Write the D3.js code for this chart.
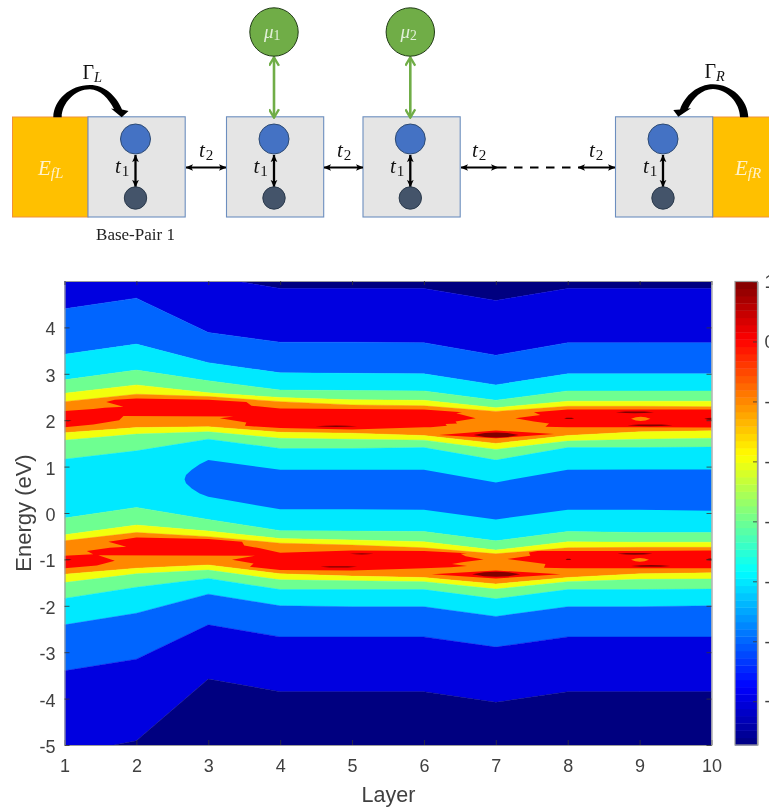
<!DOCTYPE html>
<html><head><meta charset="utf-8">
<style>html,body{margin:0;padding:0;background:#fff;overflow:hidden}svg{display:block;filter:blur(0.55px)}</style>
<script src="https://cdnjs.cloudflare.com/ajax/libs/d3/7.8.5/d3.min.js"></script>
</head><body><svg id="c" width="769" height="808"></svg>
<script>
// ---- data: contour boundaries (energy, eV) at layers 1..10, top to bottom
const layers=[1,2,3,4,5,6,7,8,9,10];
const xTicks=layers, yTicks=[-5,-4,-3,-2,-1,0,1,2,3,4], cbTicks=[1,0,-1,-2,-3,-4,-5,-6];
const xLabel="Layer", yLabel="Energy (eV)";
const edgeTop=[5.6,5.6,5.6,5.6,5.6,5.6,5.6,5.6,5.6,5.6];
const e1=[5.5,5.4,5.10,4.84,4.84,4.84,4.58,4.84,4.84,4.84];
const e2=[4.40,4.63,3.89,3.68,3.68,3.67,3.40,3.67,3.67,3.67];
const e3=[3.42,3.64,3.24,3.02,3.01,3.00,2.76,3.00,3.00,3.00];
const e4=[2.87,3.08,2.85,2.65,2.64,2.63,2.43,2.63,2.63,2.63];
const e5=[2.58,2.76,2.59,2.49,2.44,2.43,2.27,2.41,2.41,2.41];
const e6=[2.40,2.56,2.51,2.40,2.33,2.31,2.19,2.30,2.30,2.29];
const e7=[1.73,1.84,1.86,1.74,1.72,1.67,1.50,1.67,1.75,1.77];
const e8=[1.57,1.70,1.75,1.61,1.59,1.57,1.37,1.55,1.59,1.61];
const e9=[1.16,1.34,1.59,1.39,1.39,1.41,1.14,1.41,1.41,1.42];
const e10=[-0.11,0.12,-0.14,-0.38,-0.39,-0.40,-0.60,-0.40,-0.42,-0.42];
const e11=[-0.47,-0.26,-0.39,-0.55,-0.58,-0.62,-0.80,-0.62,-0.63,-0.63];
const e12=[-0.60,-0.42,-0.51,-0.65,-0.69,-0.75,-0.88,-0.75,-0.74,-0.74];
const e13=[-1.32,-1.19,-1.12,-1.31,-1.36,-1.39,-1.53,-1.39,-1.31,-1.29];
const e14=[-1.50,-1.31,-1.23,-1.44,-1.46,-1.48,-1.64,-1.48,-1.43,-1.42];
const e15=[-1.84,-1.60,-1.41,-1.65,-1.65,-1.65,-1.85,-1.65,-1.65,-1.64];
const e16=[-2.41,-2.16,-1.75,-2.00,-2.02,-2.02,-2.23,-2.02,-2.02,-2.00];
const e17=[-3.40,-3.15,-2.41,-2.67,-2.67,-2.67,-2.89,-2.67,-2.67,-2.67];
const e18=[-5.20,-4.91,-3.58,-3.85,-3.85,-3.85,-4.08,-3.85,-3.85,-3.85];
const edgeBottom=[-5.6,-5.6,-5.6,-5.6,-5.6,-5.6,-5.6,-5.6,-5.6,-5.6];
const bandEdges=[edgeTop,e1,e2,e3,e4,e5,e6,e7,e8,e9,e10,e11,e12,e13,e14,e15,e16,e17,e18,edgeBottom];
const bandLevels=[-7,-6,-5,-4,-3,-2,-1,-2,-3,-4,-3,-2,-1,-2,-3,-4,-5,-6,-7];
// closed regions [layer, energy]
const pocket=[[2.67,0.73],[2.69,0.82],[2.77,0.93],[2.88,1.05],[3,1.14],[4,0.93],[5,0.93],[6,0.93],[7,0.66],[8,0.93],[9,0.94],[10,0.94],[10,0.05],[9,0.07],[8,0.07],[7,-0.14],[6,0.07],[5,0.08],[4,0.08],[3,0.35],[2.88,0.42],[2.77,0.53],[2.69,0.64]];
const redUpperLeft=[[1,2.20],[1.40,2.24],[1.56,2.27],[1.82,2.29],[1.58,2.39],[1.70,2.44],[2,2.47],[3,2.44],[3.53,2.39],[3.60,2.31],[4,2.25],[5,2.24],[6,2.23],[6.53,2.17],[6.45,2.15],[6.72,2.04],[6.44,1.97],[6.46,1.93],[6.30,1.92],[6.32,1.88],[6.09,1.85],[6,1.85],[5,1.80],[4,1.83],[3.51,1.88],[3.53,1.95],[3.16,2.04],[3.35,2.08],[1.82,2.09],[1.76,2.00],[1.40,1.91],[1,1.85]];
const redUpperRight=[[7.27,2.04],[7.62,2.11],[7.53,2.17],[8,2.23],[9,2.23],[10,2.23],[10,1.84],[9,1.85],[8,1.85],[7.69,1.86],[7.74,1.93],[7.53,1.97]];
const redUpperCentre=[[6.21,1.68],[7,1.78],[7.81,1.70],[7,1.61]];
const redLowerLeft=[[1,-0.92],[1.40,-0.89],[1.31,-0.82],[1.63,-0.75],[1.86,-0.73],[1.61,-0.62],[2,-0.53],[3,-0.56],[3.47,-0.62],[3.50,-0.70],[3.72,-0.76],[4,-0.855],[5,-0.81],[6,-0.82],[6.60,-0.87],[6.51,-0.88],[6.58,-0.93],[6.83,-1.00],[6.53,-1.06],[6.39,-1.10],[6.60,-1.14],[6.37,-1.17],[6,-1.19],[5,-1.24],[4,-1.23],[3.58,-1.16],[3.63,-1.09],[3.33,-1.01],[3.65,-0.92],[1.47,-0.91],[1.70,-1.03],[1.45,-1.13],[1,-1.19]];
const redLowerRight=[[7.16,-0.99],[7.48,-0.92],[7.46,-0.85],[7.58,-0.82],[8,-0.82],[9,-0.82],[10,-0.81],[10,-1.19],[9,-1.19],[8,-1.19],[7.67,-1.18],[7.69,-1.10]];
const redLowerCentre=[[6.11,-1.32],[7,-1.24],[7.90,-1.32],[7,-1.41]];
const redRegions=[redUpperLeft,redUpperRight,redUpperCentre,redLowerLeft,redLowerRight,redLowerCentre];
// thin peaks: start layer, end layer, energy, half height
const peakStart=[6.69,7.95,8.67,8.83,9.90,4.49,1,6.67,7.97,8.69,8.88,9.92,4.56,4.97,1];
const peakEnd  =[7.32,8.09,9.20,9.46,10.1,5.07,1.10,7.34,8.05,9.18,9.43,10.1,5.07,5.30,1.10];
const peakE    =[1.68,2.04,2.17,1.89,2.03,1.87,1.99,-1.32,-1.00,-0.88,-1.14,-1.00,-1.16,-0.88,-1.00];
const peakH    =[0.055,0.015,0.02,0.02,0.025,0.015,0.01,0.055,0.015,0.02,0.02,0.025,0.015,0.012,0.01];
// orange islands: start, end, energy, half height
const islandStart=[8.88,8.88], islandEnd=[9.15,9.13], islandE=[2.03,-1.01], islandH=[0.045,0.04];
const jetStops=["#000080","#0000ff","#00ffff","#ffff00","#ff0000","#800000"];
const jetPos=[0,0.125,0.375,0.625,0.875,1];

// ---- scales
const svg=d3.select("#c");
const X0=64.5,X1=711.5,Y0=745,Y1=281;
const x=d3.scaleLinear().domain([1,10]).range([X0,X1]);
const y=d3.scaleLinear().domain([-5,5]).range([Y0,Y1]);
const cbY=d3.scaleLinear().domain([-6.73,1]).range([745,281.5]);
const jetFrac=d3.scaleLinear().domain(jetPos).range(jetStops).interpolate(d3.interpolateRgb);
const valFrac=d3.scaleLinear().domain([-6.73,1]).range([0,1]).clamp(true);
const color=v=>jetFrac(valFrac(v));

// ---- contour plot
const defs=svg.append("defs");
defs.append("clipPath").attr("id","plot").append("rect").attr("x",X0).attr("y",Y1).attr("width",X1-X0).attr("height",Y0-Y1);
const plot=svg.append("g").attr("clip-path","url(#plot)");
const band=d3.area().x((d,i)=>x(layers[i])).y0(d=>y(d[1])).y1(d=>y(d[0]));
bandLevels.forEach((lv,k)=>{
  const rows=layers.map((_,i)=>[bandEdges[k][i],bandEdges[k+1][i]]);
  plot.append("path").attr("d",band(rows)).attr("fill",color(lv)).attr("stroke",color(lv)).attr("stroke-width",0.4);
});
const poly=d3.line().x(d=>x(d[0])).y(d=>y(d[1])).curve(d3.curveLinearClosed);
plot.append("path").attr("d",poly(pocket)).attr("fill",color(-5));
redRegions.forEach(r=>plot.append("path").attr("d",poly(r)).attr("fill",color(0)));
const lens=(s,e,c,h)=>{const m=(s+e)/2;return [[s,c],[s+(m-s)*.5,c+h*.8],[m,c+h],[e-(e-m)*.5,c+h*.8],[e,c],[e-(e-m)*.5,c-h*.8],[m,c-h],[s+(m-s)*.5,c-h*.8]];};
peakStart.forEach((s,i)=>plot.append("path").attr("d",poly(lens(s,peakEnd[i],peakE[i],peakH[i]))).attr("fill",color(1)));
islandStart.forEach((s,i)=>plot.append("path").attr("d",poly(lens(s,islandEnd[i],islandE[i],islandH[i]))).attr("fill",color(-1)));

// ---- axes
const font="'Liberation Sans',Arial,sans-serif", axisCol="#404040";
const plain=d=>String(d);
function styleAxis(g){g.selectAll("path.domain").attr("stroke","#9c9c9c").attr("stroke-width",1.2);
  g.selectAll(".tick line").attr("stroke","#333").attr("stroke-width",0.8);
  g.selectAll("text").attr("font-family",font).attr("font-size",18).attr("fill",axisCol);}
const axB=d3.axisBottom(x).tickValues(xTicks).tickFormat(plain).tickSize(-5).tickPadding(14.5).tickSizeOuter(0);
styleAxis(svg.append("g").attr("transform",`translate(0,${Y0})`).call(axB));
const axL=d3.axisLeft(y).tickValues(yTicks).tickFormat(plain).tickSize(-5).tickPadding(9).tickSizeOuter(0);
const gl=svg.append("g").attr("transform",`translate(${X0},0)`).call(axL);styleAxis(gl);
gl.selectAll("text").attr("dy","0.42em");
const axT=d3.axisTop(x).tickValues(xTicks).tickFormat("").tickSize(-4).tickSizeOuter(0);
styleAxis(svg.append("g").attr("transform",`translate(0,${Y1})`).call(axT));
const axR=d3.axisRight(y).tickValues(yTicks).tickFormat("").tickSize(-5).tickSizeOuter(0);
styleAxis(svg.append("g").attr("transform",`translate(${X1},0)`).call(axR));
svg.append("text").attr("x",388.5).attr("y",802).attr("text-anchor","middle").attr("font-family",font).attr("font-size",21.5).attr("fill",axisCol).text(xLabel);
svg.append("text").attr("transform","translate(31,513) rotate(-90)").attr("text-anchor","middle").attr("font-family",font).attr("font-size",22).attr("fill",axisCol).text(yLabel);

// ---- colorbar
const cbX=735,cbW=22.5;
const steps=d3.range(64);
const cbVal=d3.scaleLinear().domain([0,64]).range([-6.73,1]);
svg.append("g").selectAll("rect").data(steps).join("rect")
 .attr("x",cbX).attr("width",cbW)
 .attr("y",d=>cbY(cbVal(d+1))).attr("height",d=>cbY(cbVal(d))-cbY(cbVal(d+1))+0.4)
 .attr("fill",d=>jetFrac((d+0.5)/64));
const cbAxis=d3.axisRight(cbY).tickValues(cbTicks).tickFormat(plain).tickSize(-4.5).tickPadding(7).tickSizeOuter(0);
const gc=svg.append("g").attr("transform",`translate(${cbX+cbW},0)`).call(cbAxis);styleAxis(gc);
svg.append("rect").attr("x",cbX).attr("y",281.5).attr("width",cbW).attr("height",463.5).attr("fill","none").attr("stroke","#9c9c9c").attr("stroke-width",1.2);

// ---- schematic
const orange="#ffc000",boxFill="#e5e5e5",boxStroke="#6c8ebf";
const boxes=[88,226.5,363,615.5],centres=[135.5,274,410.3,663];
const dgm=svg.append("g");
dgm.selectAll("rect.lead").data([[12.5,75.5],[712.7,60]]).join("rect").attr("class","lead").attr("x",d=>d[0]).attr("y",117).attr("width",d=>d[1]).attr("height",100).attr("fill",orange).attr("stroke","#f0913a").attr("stroke-width",1);
dgm.selectAll("rect.bp").data(boxes).join("rect").attr("class","bp").attr("x",d=>d).attr("y",116.8).attr("width",97.2).attr("height",100.2).attr("fill",boxFill).attr("stroke",boxStroke).attr("stroke-width",1.1);
const mk=(id,c,sz)=>{const m=defs.append("marker").attr("id",id).attr("viewBox","0 0 10 10").attr("refX",9.5).attr("refY",5).attr("markerWidth",sz).attr("markerHeight",sz).attr("markerUnits","userSpaceOnUse").attr("orient","auto-start-reverse");
 m.append("path").attr("d","M0,0.5 L10,5 L0,9.5 L2.5,5 Z").attr("fill",c);};
mk("ab","#000",7.5);
const mg=defs.append("marker").attr("id","ag").attr("viewBox","0 0 10 10").attr("refX",9).attr("refY",5).attr("markerWidth",11).attr("markerHeight",11).attr("markerUnits","userSpaceOnUse").attr("orient","auto-start-reverse");
mg.append("path").attr("d","M1.5,0.5 L9,5 L1.5,9.5").attr("fill","none").attr("stroke","#70ad47").attr("stroke-width",2.2);
const arrow=(x1,y1,x2,y2,col,w,m)=>dgm.append("line").attr("x1",x1).attr("y1",y1).attr("x2",x2).attr("y2",y2).attr("stroke",col).attr("stroke-width",w).attr("marker-start",`url(#${m})`).attr("marker-end",`url(#${m})`);
centres.forEach(c=>{
 arrow(c,155,c,187,"#000",2.3,"ab");
 dgm.append("circle").attr("cx",c).attr("cy",139).attr("r",15).attr("fill","#4472c4").attr("stroke","#2d4a73").attr("stroke-width",1);
 dgm.append("circle").attr("cx",c).attr("cy",198).attr("r",11.2).attr("fill","#44546a").attr("stroke","#2b3a4c").attr("stroke-width",1);
});
[[186,226],[324,363],[461,498],[578,615]].forEach(a=>arrow(a[0],167.5,a[1],167.5,"#000",1.8,"ab"));
dgm.append("line").attr("x1",498).attr("x2",578).attr("y1",167.5).attr("y2",167.5).attr("stroke","#000").attr("stroke-width",1.8).attr("stroke-dasharray","8.5,7.5");
[274,410.3].forEach(c=>{
 arrow(c,57.5,c,117.5,"#70ad47",2.6,"ag");
 dgm.append("circle").attr("cx",c).attr("cy",32).attr("r",24.2).attr("fill","#70ad47").attr("stroke","#1f3a14").attr("stroke-width",1);
});
dgm.append("path").attr("fill","#000").attr("d","M53.3 117.3 C53.5 100 70 85 90 85 C104 85 116 95 122 109.5 L128.5 111 L121.7 117.3 L111 108.5 L114 109 C109 99 100 89.3 90 89.3 C75 89.3 62 103 61.7 117.3 Z");
dgm.append("path").attr("fill","#000").attr("d","M748.3 117.3 C748 100 732 84.3 713 84.3 C698 84.3 685 95 680 109.5 L673.3 110 L678.3 116.7 L691 108.3 L688 108.5 C693 98 702 89 713 89 C727 89 740 103 740 117.3 Z");
const mathFont="'Liberation Serif','DejaVu Serif',serif";
const sym=(px,py,s,sub,col,size,subDx,subDy,ital)=>{
 const t=dgm.append("text").attr("x",px).attr("y",py).attr("font-family",mathFont).attr("font-size",size).attr("fill",col);
 t.append("tspan").attr("font-style",ital?"italic":"normal").text(s);
 t.append("tspan").attr("dx",subDx).attr("dy",subDy).attr("font-size",size*0.72).attr("font-style",sub==="1"||sub==="2"?"normal":"italic").text(sub);
};
[115,253.5,390,643].forEach(px=>sym(px,173,"t","1","#111",21,1,3,true));
[199,337,472,589].forEach(px=>sym(px,157,"t","2","#111",21,1,3,true));
sym(38,175,"E","fL","#fff2cc",21,0,3,true);
sym(735,175,"E","fR","#fff2cc",21,0,3,true);
sym(82.5,79,"Γ","L","#111",20,0,3,false);
sym(704.5,78,"Γ","R","#111",20,0,3,false);
sym(264,38,"μ","1","#e2f0d9",19,0,2,true);
sym(400.5,38,"μ","2","#e2f0d9",19,0,2,true);
dgm.append("text").attr("x",135.5).attr("y",240).attr("text-anchor","middle").attr("font-family",mathFont).attr("font-size",17).attr("fill","#222").text("Base-Pair 1");
</script></body></html>
